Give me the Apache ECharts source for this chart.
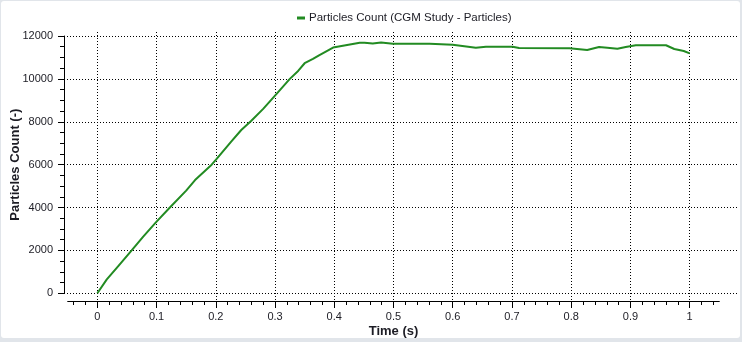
<!DOCTYPE html>
<html>
<head>
<meta charset="utf-8">
<script src="https://cdn.jsdelivr.net/npm/echarts@6/dist/echarts.min.js"></script>
<style>
  html, body { margin: 0; padding: 0; background: #e1e5ea; }
  #panel { position: absolute; left: 1px; top: 1px; width: 739px; height: 337px; background: #ffffff; border-radius: 3px; }
  #chart { position: absolute; left: 0; top: 0; width: 742px; height: 342px; }
</style>
</head>
<body>
<div id="panel"></div>
<div id="chart"></div>
<script>
// Particle count over simulated time
const seriesName = 'Particles Count (CGM Study - Particles)';
const timeValues = [0, 0.016, 0.035, 0.058, 0.0775, 0.1, 0.1225, 0.15, 0.165, 0.193, 0.2, 0.226, 0.243, 0.26, 0.28, 0.30, 0.325, 0.339, 0.35, 0.364, 0.375, 0.398, 0.443, 0.451, 0.465, 0.479, 0.499, 0.561, 0.60, 0.639, 0.656, 0.701, 0.712, 0.797, 0.827, 0.847, 0.861, 0.878, 0.892, 0.909, 0.96, 0.974, 0.99, 1.0];
const particleCounts = [0, 650, 1260, 2000, 2640, 3340, 4000, 4790, 5280, 6000, 6220, 7070, 7616, 8050, 8600, 9220, 10000, 10370, 10730, 10930, 11110, 11460, 11690, 11690, 11650, 11700, 11640, 11640, 11595, 11455, 11500, 11500, 11440, 11430, 11350, 11490, 11455, 11410, 11490, 11570, 11570, 11395, 11300, 11190];
const xLabelValues = [0, 0.1, 0.2, 0.3, 0.4, 0.5, 0.6, 0.7, 0.8, 0.9, 1];
const xMinorValues = [-0.04, -0.02, 0.02, 0.04, 0.06, 0.08, 0.12, 0.14, 0.16, 0.18, 0.22, 0.24, 0.26, 0.28, 0.32, 0.34, 0.36, 0.38, 0.42, 0.44, 0.46, 0.48, 0.52, 0.54, 0.56, 0.58, 0.62, 0.64, 0.66, 0.68, 0.72, 0.74, 0.76, 0.78, 0.82, 0.84, 0.86, 0.88, 0.92, 0.94, 0.96, 0.98, 1.02, 1.04];

const FONT = '"Liberation Sans", Arial, sans-serif';
const INK = '#1c1c24';
const dotted = { color: '#000', width: 1, type: [1, 2] };

// Plot frame: y axis spans 0..12000 between px 36 and 293.3; x axis line sits at px 301
const yTop = 36, yZero = 293.3, axisBottom = 301, frameTop = 32;
const pxPerUnit = (yZero - yTop) / 12000;
const hiddenYMax = 12000 + (yTop - frameTop) / pxPerUnit;
const hiddenYMin = -(axisBottom - yZero) / pxPerUnit;

const chart = echarts.init(document.getElementById('chart'), null, { renderer: 'canvas' });
chart.setOption({
  animation: false,
  textStyle: { fontFamily: FONT },
  legend: {
    top: 12, left: 297, padding: 0,
    itemWidth: 8, itemHeight: 3, icon: 'rect', itemGap: 10,
    textStyle: { fontSize: 11.5, color: INK, fontFamily: FONT, padding: [0, 0, 0, -1] },
    data: [seriesName]
  },
  grid: [
    // y-axis frame with horizontal gridlines
    { left: 64, right: 5, top: yTop, bottom: 342 - yZero, outerBoundsMode: 'none' },
    // x-axis frame with vertical gridlines and the data
    { left: 67.7, right: 22.7, top: frameTop, bottom: 342 - axisBottom, outerBoundsMode: 'none' }
  ],
  xAxis: [
    {
      gridIndex: 1, type: 'value', min: -0.05, max: 1.05,
      name: 'Time (s)', nameLocation: 'middle', nameGap: 24, nameMoveOverlap: false,
      nameTextStyle: { fontWeight: 'bold', fontSize: 13, color: INK, fontFamily: FONT },
      axisLine: { show: true, onZero: false, lineStyle: { color: '#000', width: 1 } },
      axisTick: { show: true, length: 7, customValues: xLabelValues, lineStyle: { color: '#000' } },
      axisLabel: { customValues: xLabelValues, margin: 10, fontSize: 11, color: INK, fontFamily: FONT },
      splitLine: { show: true, lineStyle: dotted }
    },
    {
      gridIndex: 1, type: 'value', min: -0.05, max: 1.05, position: 'bottom',
      axisLine: { show: false, onZero: false },
      axisTick: { show: true, length: 4, customValues: xMinorValues, lineStyle: { color: '#000' } },
      axisLabel: { show: false },
      splitLine: { show: false }
    },
    {
      gridIndex: 0, type: 'value', min: 0, max: 1, show: false
    }
  ],
  yAxis: [
    {
      gridIndex: 0, type: 'value', min: 0, max: 12000, interval: 2000,
      name: 'Particles Count (-)', nameLocation: 'middle', nameGap: 42, nameMoveOverlap: false,
      nameTextStyle: { fontWeight: 'bold', fontSize: 13, color: INK, fontFamily: FONT },
      axisLine: { show: true, lineStyle: { color: '#000', width: 1 } },
      axisTick: { show: true, length: 6, lineStyle: { color: '#000' } },
      minorTick: { show: true, splitNumber: 4, length: 4, lineStyle: { color: '#000' } },
      axisLabel: { margin: 11, fontSize: 11, color: INK, fontFamily: FONT, formatter: v => String(v) },
      splitLine: { show: true, lineStyle: dotted }
    },
    {
      gridIndex: 1, type: 'value', min: hiddenYMin, max: hiddenYMax, show: false
    }
  ],
  series: [{
    name: seriesName,
    type: 'line',
    xAxisIndex: 0, yAxisIndex: 1,
    data: timeValues.map((t, i) => [t, particleCounts[i]]),
    showSymbol: false,
    lineStyle: { color: '#228b22', width: 2 },
    itemStyle: { color: '#228b22' }
  }]
});
</script>
</body>
</html>
